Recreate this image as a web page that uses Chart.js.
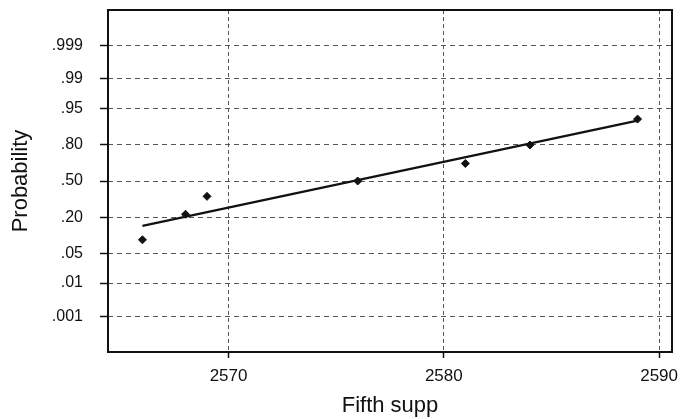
<!DOCTYPE html>
<html>
<head>
<meta charset="utf-8">
<script src="https://cdn.jsdelivr.net/npm/chart.js@4/dist/chart.umd.min.js"></script>
<style>
  html, body { margin: 0; padding: 0; background: #ffffff; }
  #c { display: block; }
</style>
</head>
<body>
<canvas id="c" width="683" height="419"></canvas>
<script>
// Observations (Fifth supp) and their plotted cumulative probabilities
const fifthSupp = [2566, 2568, 2569, 2576, 2581, 2584, 2589];
const probability = [0.09, 0.224, 0.363, 0.5, 0.655, 0.794, 0.921];

// End points of the fitted normal line
const fitSupp = [2566, 2589];
const fitProbability = [0.153, 0.916];

// Axis ticks
const probTicks = [0.001, 0.01, 0.05, 0.20, 0.50, 0.80, 0.95, 0.99, 0.999];
const probTickLabels = ['.001', '.01', '.05', '.20', '.50', '.80', '.95', '.99', '.999'];
const suppTicks = [2570, 2580, 2590];

// Inverse standard normal CDF (Acklam's rational approximation)
function normInv(p) {
  const a = [-3.969683028665376e+01, 2.209460984245205e+02, -2.759285104469687e+02,
             1.383577518672690e+02, -3.066479806614716e+01, 2.506628277459239e+00];
  const b = [-5.447609879822406e+01, 1.615858368580409e+02, -1.556989798598866e+02,
             6.680131188771972e+01, -1.328068155288572e+01];
  const c = [-7.784894002430293e-03, -3.223964580411365e-01, -2.400758277161838e+00,
             -2.549732539343734e+00, 4.374664141464968e+00, 2.938163982698783e+00];
  const d = [7.784695709041462e-03, 3.224671290700398e-01, 2.445134137142996e+00,
             3.754408661907416e+00];
  const pLow = 0.02425, pHigh = 1 - pLow;
  let q, r;
  if (p < pLow) {
    q = Math.sqrt(-2 * Math.log(p));
    return (((((c[0]*q+c[1])*q+c[2])*q+c[3])*q+c[4])*q+c[5]) /
           ((((d[0]*q+d[1])*q+d[2])*q+d[3])*q+1);
  }
  if (p <= pHigh) {
    q = p - 0.5; r = q * q;
    return (((((a[0]*r+a[1])*r+a[2])*r+a[3])*r+a[4])*r+a[5])*q /
           (((((b[0]*r+b[1])*r+b[2])*r+b[3])*r+b[4])*r+1);
  }
  q = Math.sqrt(-2 * Math.log(1 - p));
  return -(((((c[0]*q+c[1])*q+c[2])*q+c[3])*q+c[4])*q+c[5]) /
          ((((d[0]*q+d[1])*q+d[2])*q+d[3])*q+1);
}

const pointData = fifthSupp.map((x, i) => ({ x: x, y: normInv(probability[i]) }));
const fitData = fitSupp.map((x, i) => ({ x: x, y: normInv(fitProbability[i]) }));
const tickZ = probTicks.map(normInv);

// Solid frame around the plotting area
const frame = {
  id: 'frame',
  afterDatasetsDraw(chart) {
    const { ctx, chartArea: a } = chart;
    ctx.save();
    ctx.strokeStyle = '#111';
    ctx.lineWidth = 2;
    ctx.strokeRect(a.left, a.top, a.right - a.left, a.bottom - a.top);
    ctx.restore();
  }
};

const FONT = "'Liberation Sans', Arial, sans-serif";

new Chart(document.getElementById('c'), {
  type: 'scatter',
  data: {
    datasets: [
      {
        label: 'Fit',
        type: 'line',
        data: fitData,
        borderColor: '#111',
        borderWidth: 2.2,
        pointRadius: 0,
        fill: false,
        order: 2
      },
      {
        label: 'Fifth supp',
        data: pointData,
        pointStyle: 'rectRot',
        pointRadius: 4,
        backgroundColor: '#111',
        borderColor: '#111',
        borderWidth: 1,
        order: 1
      }
    ]
  },
  options: {
    responsive: false,
    animation: false,
    layout: { padding: { left: 0, top: 10, right: 11, bottom: 0 } },
    plugins: {
      legend: { display: false },
      tooltip: { enabled: false }
    },
    scales: {
      x: {
        type: 'linear',
        min: 2564.4,
        max: 2590.6,
        afterBuildTicks: (s) => { s.ticks = suppTicks.map(v => ({ value: v })); },
        afterFit: (s) => { s.height = 67; s.paddingLeft = 0; s.paddingRight = 0; },
        border: { display: false, dash: [4, 3] },
        grid: {
          color: '#555',
          lineWidth: 1,
          tickLength: 6,
          tickColor: '#111',
          tickWidth: 1.5,
          tickBorderDash: []
        },
        ticks: {
          color: '#111',
          padding: 8,
          font: { family: FONT, size: 17 },
          callback: (v) => String(v)
        },
        title: {
          display: true,
          text: 'Fifth supp',
          color: '#111',
          font: { family: FONT, size: 22 },
          padding: { top: 0, bottom: 0 }
        }
      },
      y: {
        type: 'linear',
        min: -3.9,
        max: 3.9,
        afterBuildTicks: (s) => { s.ticks = tickZ.map(v => ({ value: v })); },
        afterFit: (s) => { s.width = 108; s.paddingTop = 0; s.paddingBottom = 0; },
        border: { display: false, dash: [5, 4] },
        grid: {
          color: '#555',
          lineWidth: 1,
          tickLength: 8,
          tickColor: '#111',
          tickWidth: 1.5,
          tickBorderDash: []
        },
        ticks: {
          color: '#111',
          padding: 17,
          font: { family: FONT, size: 16 },
          callback: (v, i) => probTickLabels[i]
        },
        title: {
          display: true,
          text: 'Probability',
          color: '#111',
          font: { family: FONT, size: 22 },
          padding: { top: 8, bottom: 0 }
        }
      }
    }
  },
  plugins: [frame]
});
</script>
</body>
</html>
